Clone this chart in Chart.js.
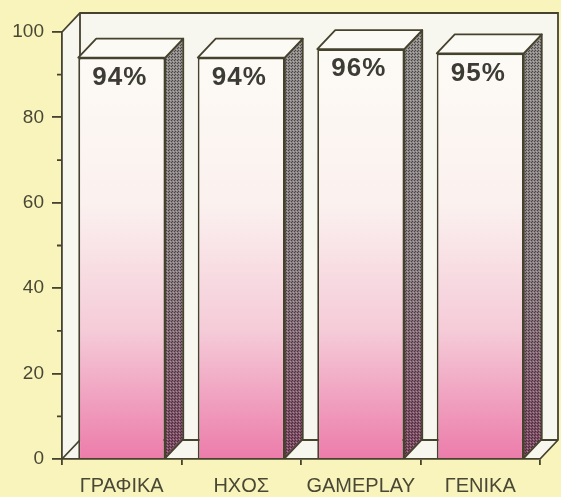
<!DOCTYPE html>
<html>
<head>
<meta charset="utf-8">
<script src="https://cdn.jsdelivr.net/npm/chart.js@4/dist/chart.umd.min.js"></script>
<style>
  html, body { margin: 0; padding: 0; background: #f8f4bc; }
  canvas { display: block; }
</style>
</head>
<body>
<canvas id="c" width="561" height="497"></canvas>
<script>
// Ratings per category (percent)
const categories = ['ΓΡΑΦΙΚΑ', 'ΗΧΟΣ', 'GAMEPLAY', 'ΓΕΝΙΚΑ'];
const scores = [94, 94, 96, 95];
const yTickValues = [0, 20, 40, 60, 80, 100];

const INK = '#45422e';
const TEXT = '#4a4834';
const FONT = '"Liberation Sans", Arial, sans-serif';
const DEPTH_X = 18;
const DEPTH_Y = 19;

// small dotted texture for the shaded bar sides
function dotPattern(ctx) {
  const p = document.createElement('canvas');
  p.width = 3; p.height = 3;
  const g = p.getContext('2d');
  g.fillStyle = 'rgba(30,22,28,0.6)';
  g.fillRect(0, 0, 1, 1);
  g.fillRect(1, 2, 1, 1);
  g.fillStyle = 'rgba(255,255,255,0.3)';
  g.fillRect(2, 1, 1, 1);
  return ctx.createPattern(p, 'repeat');
}

function frontGradient(ctx, area) {
  const g = ctx.createLinearGradient(0, area.top, 0, area.bottom);
  g.addColorStop(0, '#fdfcf7');
  g.addColorStop(0.4, '#fbf1ef');
  g.addColorStop(0.7, '#f5cbd8');
  g.addColorStop(1, '#ec7caa');
  return g;
}

// the open box behind the bars: left wall, floor and back wall
const boxPlugin = {
  id: 'box',
  beforeDraw(chart) {
    const { ctx, chartArea: a } = chart;
    const L = a.left, R = a.right, T = a.top, B = a.bottom;
    const dx = DEPTH_X, dy = DEPTH_Y;
    ctx.save();
    ctx.fillStyle = '#f7f6ef';
    ctx.beginPath();
    ctx.moveTo(L, B); ctx.lineTo(L, T); ctx.lineTo(L + dx, T - dy);
    ctx.lineTo(R + dx, T - dy); ctx.lineTo(R + dx, B - dy); ctx.lineTo(R, B);
    ctx.closePath();
    ctx.fill();
    ctx.strokeStyle = INK;
    ctx.lineWidth = 1.8;
    ctx.beginPath();
    ctx.moveTo(L, T); ctx.lineTo(L + dx, T - dy); ctx.lineTo(R + dx, T - dy);
    ctx.lineTo(R + dx, B - dy); ctx.lineTo(R, B);
    ctx.moveTo(L + dx, T - dy); ctx.lineTo(L + dx, B - dy); ctx.lineTo(R + dx, B - dy);
    ctx.moveTo(L, B); ctx.lineTo(L + dx, B - dy);
    ctx.stroke();
    ctx.restore();
  }
};

// top and side faces of each bar, plus the value printed on the front
const bar3dPlugin = {
  id: 'bar3d',
  afterDatasetsDraw(chart) {
    const { ctx, chartArea: a } = chart;
    const meta = chart.getDatasetMeta(0);
    const dx = DEPTH_X, dy = DEPTH_Y;
    const pat = dotPattern(ctx);
    const side = ctx.createLinearGradient(0, a.top, 0, a.bottom);
    side.addColorStop(0, '#8e8c89');
    side.addColorStop(0.55, '#8a7f82');
    side.addColorStop(1, '#7e4862');
    ctx.save();
    ctx.strokeStyle = INK;
    ctx.lineWidth = 1.8;
    ctx.lineJoin = 'round';
    meta.data.forEach((bar, i) => {
      const p = bar.getProps(['x', 'y', 'base', 'width'], true);
      const l = p.x - p.width / 2, r = p.x + p.width / 2;
      // side face
      ctx.beginPath();
      ctx.moveTo(r, p.y); ctx.lineTo(r + dx, p.y - dy);
      ctx.lineTo(r + dx, p.base - dy); ctx.lineTo(r, p.base);
      ctx.closePath();
      ctx.fillStyle = side; ctx.fill();
      ctx.fillStyle = pat; ctx.fill();
      ctx.stroke();
      // top face
      ctx.beginPath();
      ctx.moveTo(l, p.y); ctx.lineTo(l + dx, p.y - dy);
      ctx.lineTo(r + dx, p.y - dy); ctx.lineTo(r, p.y);
      ctx.closePath();
      ctx.fillStyle = '#fbfaf4'; ctx.fill();
      ctx.stroke();
      // value label
      ctx.fillStyle = '#3c3b34';
      ctx.font = 'bold 26px ' + FONT;
      ctx.letterSpacing = '1px';
      ctx.textAlign = 'center';
      ctx.textBaseline = 'middle';
      ctx.fillText(scores[i] + '%', p.x - 2, p.y + 20);
    });
    ctx.restore();
  }
};

// short minor ticks between the labelled values
const minorTicksPlugin = {
  id: 'minorTicks',
  afterDraw(chart) {
    const { ctx } = chart;
    const y = chart.scales.y;
    ctx.save();
    ctx.strokeStyle = INK;
    ctx.lineWidth = 1.8;
    ctx.beginPath();
    for (let k = 0; k + 1 < yTickValues.length; k++) {
      const v = (yTickValues[k] + yTickValues[k + 1]) / 2;
      const py = y.getPixelForValue(v);
      ctx.moveTo(y.right - 5, py); ctx.lineTo(y.right, py);
    }
    ctx.stroke();
    ctx.restore();
  }
};

new Chart(document.getElementById('c'), {
  type: 'bar',
  data: {
    labels: categories,
    datasets: [{
      data: scores,
      backgroundColor: (c) => c.chart.chartArea ? frontGradient(c.chart.ctx, c.chart.chartArea) : '#f6d2dc',
      borderColor: INK,
      borderWidth: 1.8,
      borderSkipped: 'bottom',
      categoryPercentage: 1,
      barPercentage: 0.728
    }]
  },
  options: {
    responsive: false,
    animation: false,
    devicePixelRatio: 1,
    layout: { padding: { left: 0, top: 32, right: 21, bottom: 0 } },
    plugins: { legend: { display: false }, tooltip: { enabled: false } },
    scales: {
      x: {
        offset: true,
        grid: { offset: true, drawOnChartArea: false, tickLength: 6, color: INK, lineWidth: 1.8 },
        border: { display: true, color: INK, width: 1.8 },
        ticks: { color: TEXT, padding: 9, font: { family: FONT, size: 20 } },
        afterFit: (s) => { s.height = 38; }
      },
      y: {
        min: 0, max: 100,
        afterBuildTicks: (s) => { s.ticks = yTickValues.map(v => ({ value: v })); },
        grid: { drawOnChartArea: false, tickLength: 10, color: INK, lineWidth: 1.8 },
        border: { display: true, color: INK, width: 1.8 },
        ticks: { color: TEXT, padding: 8, font: { family: FONT, size: 19 } },
        afterFit: (s) => { s.width = 62; }
      }
    }
  },
  plugins: [boxPlugin, bar3dPlugin, minorTicksPlugin]
});
</script>
</body>
</html>
